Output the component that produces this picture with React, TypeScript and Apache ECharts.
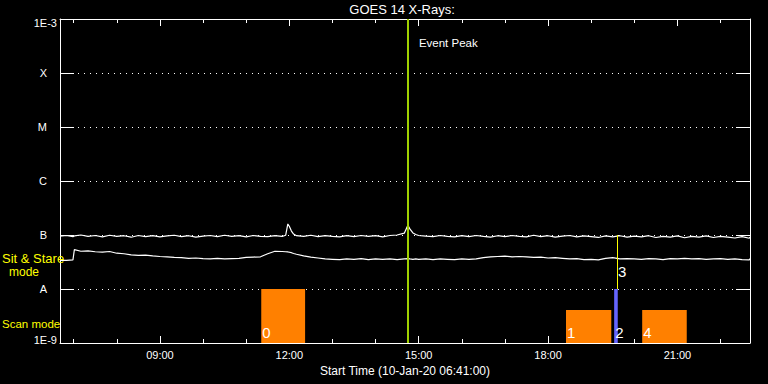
import React, { useEffect, useRef } from "react";
import * as echarts from "echarts";

// ---------- data ----------
const chartTitle = "GOES 14 X-Rays:";
const xAxisTitle = "Start Time (10-Jan-20 06:41:00)";
const startTime = "06:41";
const endTime = "22:41";

const hourTicks = ["07:00", "08:00", "09:00", "10:00", "11:00", "12:00", "13:00", "14:00", "15:00", "16:00", "17:00", "18:00", "19:00", "20:00", "21:00", "22:00"];
const hourLabels = ["09:00", "12:00", "15:00", "18:00", "21:00"];

const classExponents = [-9, -8, -7, -6, -5, -4, -3];
const classLabels = ["1E-9", "A", "B", "C", "M", "X", "1E-3"];

const times = [
  "06:41", "06:50", "06:59", "07:01", "07:10", "07:20", "07:30", "07:40", "07:50",
  "08:00", "08:10", "08:20", "08:30", "08:40", "08:50",
  "09:00", "09:10", "09:20", "09:30", "09:40", "09:50",
  "10:00", "10:10", "10:20", "10:30", "10:40", "10:50",
  "11:00", "11:10", "11:20", "11:30", "11:40", "11:50", "11:55", "11:58",
  "12:00", "12:03", "12:06", "12:10", "12:20", "12:30", "12:40", "12:50",
  "13:00", "13:10", "13:20", "13:30", "13:40", "13:50",
  "14:00", "14:10", "14:20", "14:30", "14:40", "14:45", "14:48", "14:52", "14:56",
  "15:00", "15:10", "15:20", "15:30", "15:40", "15:50",
  "16:00", "16:10", "16:20", "16:30", "16:40", "16:50",
  "17:00", "17:10", "17:20", "17:30", "17:40", "17:50",
  "18:00", "18:10", "18:20", "18:30", "18:40", "18:50",
  "19:00", "19:10", "19:20", "19:30", "19:40", "19:50",
  "20:00", "20:10", "20:20", "20:30", "20:40", "20:50",
  "21:00", "21:10", "21:20", "21:30", "21:40", "21:50",
  "22:00", "22:10", "22:20", "22:30", "22:40", "22:41",
];

// 1-8 Angstrom channel (upper trace)
const longFlux = [
  9.5e-8, 9.8e-8, 9.3e-8, 9.6e-8, 1.0e-7, 9.4e-8, 9.8e-8, 9.2e-8, 9.9e-8,
  9.4e-8, 9.7e-8, 9.1e-8, 9.8e-8, 9.3e-8, 9.7e-8,
  9.2e-8, 9.6e-8, 9.9e-8, 9.3e-8, 9.7e-8, 9.1e-8,
  9.5e-8, 9.8e-8, 9.3e-8, 9.9e-8, 9.4e-8, 9.7e-8,
  9.2e-8, 9.8e-8, 9.4e-8, 9.3e-8, 9.7e-8, 9.4e-8, 9.9e-8, 1.6e-7,
  1.45e-7, 1.18e-7, 1.04e-7, 9.7e-8, 9.4e-8, 9.9e-8, 9.3e-8, 9.7e-8,
  9.4e-8, 9.2e-8, 9.7e-8, 9.3e-8, 9.8e-8, 9.4e-8,
  9.7e-8, 9.2e-8, 9.8e-8, 1.0e-7, 1.08e-7, 1.52e-7, 1.28e-7, 1.09e-7, 1.02e-7,
  9.8e-8, 9.5e-8, 9.3e-8, 9.8e-8, 9.4e-8, 9.2e-8,
  9.7e-8, 9.3e-8, 9.8e-8, 9.4e-8, 9.1e-8, 9.7e-8,
  9.3e-8, 9.8e-8, 9.4e-8, 9.2e-8, 9.9e-8, 9.3e-8,
  9.7e-8, 9.1e-8, 9.5e-8, 9.8e-8, 9.2e-8, 9.6e-8,
  9.3e-8, 9.0e-8, 9.6e-8, 9.2e-8, 9.7e-8, 9.1e-8,
  9.5e-8, 9.2e-8, 9.7e-8, 9.0e-8, 9.4e-8, 9.1e-8,
  9.6e-8, 8.9e-8, 9.4e-8, 9.1e-8, 9.6e-8, 9.0e-8,
  9.4e-8, 9.1e-8, 8.8e-8, 9.3e-8, 8.7e-8, 9.2e-8,
];

// 0.5-4 Angstrom channel (lower trace)
const shortFlux = [
  3.4e-8, 3.4e-8, 3.45e-8, 5.35e-8, 5.0e-8, 5.1e-8, 4.9e-8, 4.8e-8, 4.95e-8,
  4.6e-8, 4.5e-8, 4.3e-8, 4.2e-8, 4.25e-8, 4.1e-8,
  4.0e-8, 3.95e-8, 3.85e-8, 3.8e-8, 3.7e-8, 3.75e-8,
  3.65e-8, 3.6e-8, 3.7e-8, 3.6e-8, 3.65e-8, 3.7e-8,
  3.85e-8, 3.9e-8, 3.95e-8, 4.5e-8, 5.0e-8, 4.95e-8, 4.9e-8, 4.85e-8,
  4.8e-8, 4.7e-8, 4.55e-8, 4.4e-8, 4.1e-8, 3.9e-8, 3.75e-8, 3.6e-8,
  3.55e-8, 3.5e-8, 3.6e-8, 3.55e-8, 3.65e-8, 3.5e-8,
  3.6e-8, 3.55e-8, 3.6e-8, 3.5e-8, 3.6e-8, 3.65e-8, 3.6e-8, 3.55e-8, 3.6e-8,
  3.55e-8, 3.6e-8, 3.5e-8, 3.6e-8, 3.55e-8, 3.5e-8,
  3.6e-8, 3.55e-8, 3.6e-8, 3.8e-8, 3.95e-8, 4.0e-8,
  4.05e-8, 3.95e-8, 4.0e-8, 3.95e-8, 3.85e-8, 3.9e-8,
  3.75e-8, 3.8e-8, 3.7e-8, 3.6e-8, 3.65e-8, 3.5e-8,
  3.55e-8, 3.45e-8, 3.7e-8, 3.8e-8, 3.6e-8, 3.65e-8,
  3.6e-8, 3.55e-8, 3.65e-8, 3.6e-8, 3.5e-8, 3.65e-8,
  3.6e-8, 3.7e-8, 3.6e-8, 3.65e-8, 3.55e-8, 3.6e-8,
  3.65e-8, 3.55e-8, 3.6e-8, 3.5e-8, 3.45e-8, 3.65e-8,
];

// observation blocks
const scanIds = ["0", "1", "2", "4"];
const scanStart = ["11:21", "18:25", "19:32", "20:11"];
const scanEnd = ["12:22", "19:28", "19:37", "21:13"];
const scanTop = [1e-8, 4.1e-9, 1e-8, 4.1e-9];

const sitStareIds = ["3"];
const sitStareTime = ["19:36"];
const sitStareLow = [1e-8];
const sitStareHigh = [1e-7];

const eventPeakTime = "14:45";
const eventPeakLabel = "Event Peak";

const sideLabels = ["Sit & Stare", "mode", "Scan mode"];

// ---------- styles ----------
const FONT = "Liberation Sans";
const WHITE = "#ffffff";
const YELLOW = "#ffff00";
const scanColors = ["#ff8000", "#ff8000", "#6464ff", "#ff8000"];
const PEAK_COLOR = "#9fd000";

const toMin = (s: string) => {
  const [h, m] = s.split(":").map(Number);
  return h * 60 + m;
};
const fmtMin = (v: number) => {
  const h = Math.floor(v / 60);
  const m = Math.round(v - h * 60);
  return `${String(h).padStart(2, "0")}:${String(m).padStart(2, "0")}`;
};

export default function App() {
  const ref = useRef<HTMLDivElement>(null);

  useEffect(() => {
    if (!ref.current) return;
    const chart = echarts.init(ref.current, undefined, { renderer: "svg" });

    const xMin = toMin(startTime);
    const xMax = toMin(endTime);
    const yMin = Math.pow(10, classExponents[0]);
    const yMax = Math.pow(10, classExponents[classExponents.length - 1]);
    const tickVals = hourTicks.map(toMin);
    const labelVals = hourLabels.map(toMin);

    const xBase: any = {
      type: "value",
      min: xMin,
      max: xMax,
      splitLine: { show: false },
      axisLabel: { show: false },
    };
    const tickStyle = { color: WHITE, width: 1 };

    const yBase: any = {
      type: "log",
      logBase: 10,
      min: yMin,
      max: yMax,
      splitNumber: 6,
    };

    const lineData = (vals: number[]) => times.map((t, i) => [toMin(t), vals[i]]);

    const option: any = {
      animation: false,
      backgroundColor: "#000000",
      grid: { left: 60, right: 18, top: 19, bottom: 41, containLabel: false },
      xAxis: [
        {
          ...xBase,
          position: "bottom",
          axisLine: { show: true, onZero: false, lineStyle: { color: WHITE, width: 1 } },
          axisTick: { show: true, inside: true, length: 4, lineStyle: tickStyle, customValues: tickVals },
          axisLabel: {
            show: true,
            customValues: labelVals,
            formatter: (v: number) => fmtMin(v),
            color: WHITE,
            fontFamily: FONT,
            fontSize: 11,
            margin: 6,
          },
          name: xAxisTitle,
          nameLocation: "middle",
          nameGap: 20,
          nameTextStyle: { color: WHITE, fontFamily: FONT, fontSize: 12 },
        },
        {
          ...xBase,
          position: "bottom",
          axisLine: { show: false, onZero: false },
          axisTick: { show: true, inside: true, length: 7, lineStyle: tickStyle, customValues: labelVals },
        },
        {
          ...xBase,
          position: "top",
          axisLine: { show: true, onZero: false, lineStyle: { color: WHITE, width: 1 } },
          axisTick: { show: true, inside: true, length: 4, lineStyle: tickStyle, customValues: tickVals },
        },
        {
          ...xBase,
          position: "top",
          axisLine: { show: false, onZero: false },
          axisTick: { show: true, inside: true, length: 7, lineStyle: tickStyle, customValues: labelVals },
        },
      ],
      yAxis: [
        {
          ...yBase,
          position: "left",
          axisLine: { show: true, onZero: false, lineStyle: { color: WHITE, width: 1 } },
          axisTick: { show: true, inside: true, length: 14, lineStyle: tickStyle },
          axisLabel: {
            show: true,
            color: WHITE,
            fontFamily: FONT,
            fontSize: 11,
            margin: 3,
            formatter: (v: number) => {
              const e = Math.round(Math.log10(v));
              const i = classExponents.indexOf(e);
              if (i < 0) return "";
              const t = classLabels[i];
              if (i === classExponents.length - 1) return `{top|${t}}`;
              if (i === 0) return `{bot|${t}}`;
              return `{cls|${t}}`;
            },
            rich: {
              top: { color: WHITE, fontFamily: FONT, fontSize: 11, padding: [8, 0, 0, 0] },
              bot: { color: WHITE, fontFamily: FONT, fontSize: 11, padding: [0, 0, 6, 0] },
              cls: { color: WHITE, fontFamily: FONT, fontSize: 11, padding: [0, 10, 0, 0] },
            },
          },
          splitLine: { show: true, lineStyle: { color: WHITE, width: 1, type: [1, 5] } },
        },
        {
          ...yBase,
          position: "right",
          axisLine: { show: true, onZero: false, lineStyle: { color: WHITE, width: 1 } },
          axisTick: { show: true, inside: true, length: 14, lineStyle: tickStyle },
          axisLabel: { show: false },
          splitLine: { show: false },
        },
      ],
      graphic: [
        {
          type: "text",
          x: 402,
          y: 9,
          style: {
            text: chartTitle,
            fill: WHITE,
            fontFamily: FONT,
            fontSize: 13,
            textAlign: "center",
            align: "center",
            textVerticalAlign: "middle",
            verticalAlign: "middle",
          },
        },
        {
          type: "text",
          x: 2,
          y: 258.5,
          z: 100,
          style: {
            text: sideLabels[0],
            fill: YELLOW,
            fontFamily: FONT,
            fontSize: 13,
            textAlign: "left",
            align: "left",
            textVerticalAlign: "middle",
            verticalAlign: "middle",
          },
        },
        {
          type: "text",
          x: 24,
          y: 271.5,
          style: {
            text: sideLabels[1],
            fill: YELLOW,
            fontFamily: FONT,
            fontSize: 12,
            textAlign: "center",
            align: "center",
            textVerticalAlign: "middle",
            verticalAlign: "middle",
          },
        },
        {
          type: "text",
          x: 2,
          y: 323.5,
          style: {
            text: sideLabels[2],
            fill: YELLOW,
            fontFamily: FONT,
            fontSize: 11.5,
            textAlign: "left",
            align: "left",
            textVerticalAlign: "middle",
            verticalAlign: "middle",
          },
        },
      ],
      series: [
        {
          type: "custom",
          name: "scans",
          z: 2,
          silent: true,
          encode: { x: [0, 1], y: 2 },
          data: scanIds.map((_, i) => [toMin(scanStart[i]), toMin(scanEnd[i]), scanTop[i], i]),
          renderItem: (params: any, api: any) => {
            const s = api.value(0);
            const e = api.value(1);
            const top = api.value(2);
            const i = api.value(3);
            const p0 = api.coord([s, top]);
            const p1 = api.coord([e, yMin]);
            return {
              type: "group",
              children: [
                {
                  type: "rect",
                  shape: { x: p0[0], y: p0[1], width: p1[0] - p0[0], height: p1[1] - p0[1] },
                  style: { fill: scanColors[i] },
                },
                {
                  type: "text",
                  x: p0[0] + 1,
                  y: p1[1] - 10.5,
                  z2: 10,
                  style: {
                    text: scanIds[i],
                    fill: WHITE,
                    fontFamily: FONT,
                    fontSize: 15,
                    textAlign: "left",
                    align: "left",
                    textVerticalAlign: "middle",
                    verticalAlign: "middle",
                  },
                },
              ],
            };
          },
        },
        {
          type: "line",
          name: "long",
          z: 3,
          silent: true,
          showSymbol: false,
          symbol: "none",
          data: lineData(longFlux),
          lineStyle: { color: WHITE, width: 1.2 },
        },
        {
          type: "line",
          name: "short",
          z: 3,
          silent: true,
          showSymbol: false,
          symbol: "none",
          data: lineData(shortFlux),
          lineStyle: { color: WHITE, width: 1.2 },
        },
        {
          type: "custom",
          name: "sitstare",
          z: 4,
          silent: true,
          encode: { x: 0, y: [1, 2] },
          data: sitStareIds.map((_, i) => [toMin(sitStareTime[i]), sitStareLow[i], sitStareHigh[i], i]),
          renderItem: (params: any, api: any) => {
            const t = api.value(0);
            const lo = api.value(1);
            const hi = api.value(2);
            const i = api.value(3);
            const pLo = api.coord([t, lo]);
            const pHi = api.coord([t, hi]);
            const x = Math.round(pLo[0]) + 0.5;
            return {
              type: "group",
              children: [
                {
                  type: "line",
                  shape: { x1: x, y1: pLo[1], x2: x, y2: pHi[1] },
                  style: { stroke: YELLOW, lineWidth: 1 },
                },
                {
                  type: "text",
                  x: pLo[0] + 1,
                  y: pLo[1] - 17.5,
                  style: {
                    text: sitStareIds[i],
                    fill: WHITE,
                    fontFamily: FONT,
                    fontSize: 15,
                    textAlign: "left",
                    align: "left",
                    textVerticalAlign: "middle",
                    verticalAlign: "middle",
                  },
                },
              ],
            };
          },
        },
        {
          type: "custom",
          name: "peak",
          z: 5,
          silent: true,
          encode: { x: 0, y: [1, 2] },
          data: [[toMin(eventPeakTime), yMin, yMax]],
          renderItem: (params: any, api: any) => {
            const t = api.value(0);
            const pB = api.coord([t, api.value(1)]);
            const pT = api.coord([t, api.value(2)]);
            const x = Math.round(pB[0]);
            return {
              type: "group",
              children: [
                {
                  type: "line",
                  shape: { x1: x, y1: pB[1], x2: x, y2: pT[1] },
                  style: { stroke: PEAK_COLOR, lineWidth: 2 },
                },
                {
                  type: "text",
                  x: pT[0] + 11,
                  y: pT[1] + 24,
                  style: {
                    text: eventPeakLabel,
                    fill: WHITE,
                    fontFamily: FONT,
                    fontSize: 11.5,
                    textAlign: "left",
                    align: "left",
                    textVerticalAlign: "middle",
                    verticalAlign: "middle",
                  },
                },
              ],
            };
          },
        },
      ],
    };

    chart.setOption(option);
    return () => chart.dispose();
  }, []);

  return (
    <div
      ref={ref}
      style={{ position: "fixed", left: 0, top: 0, width: 768, height: 384, background: "#000" }}
    />
  );
}
